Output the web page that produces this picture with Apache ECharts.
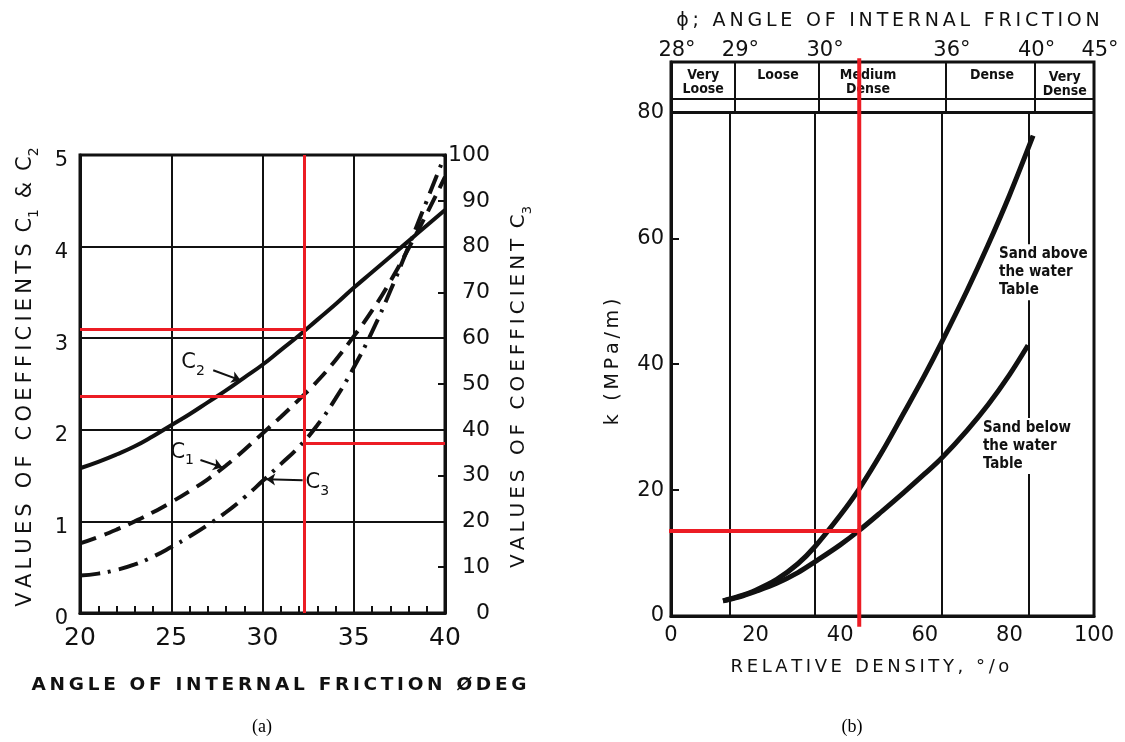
<!DOCTYPE html>
<html>
<head>
<meta charset="utf-8">
<script src="https://cdn.jsdelivr.net/npm/echarts@6/dist/echarts.min.js"></script>
<style>
html,body{margin:0;padding:0;background:#fff;}
#chart{width:1125px;height:742px;}
</style>
</head>
<body>
<div id="chart"></div>
<script>
// ---------- Panel (a) data ----------
const anglesA = [20,21,22,23,24,25,26,27,28,29,30,31,32,33,34,35,36,37,38,39,40];
const c2Values = [1.58,1.65,1.73,1.82,1.93,2.05,2.17,2.30,2.43,2.57,2.71,2.87,3.03,3.20,3.37,3.55,3.72,3.89,4.06,4.23,4.40];
const c1Values = [0.76,0.83,0.91,1.00,1.10,1.21,1.33,1.46,1.61,1.78,1.96,2.14,2.33,2.53,2.76,3.02,3.30,3.62,3.98,4.36,4.76];
const c3Values = [8.2,8.6,9.4,10.6,12.3,14.4,16.7,19.2,22.0,25.2,28.8,32.5,36.3,41.0,46.8,53.6,61.4,70.3,80.0,90.0,100.0];
// red read-off lines, panel (a)
const readAngle = 32.3;
const readC2 = 3.1;
const readC1 = 2.37;
const readC3 = 37;
// curve name labels (subscript) and their leader arrows, panel (a)
const curveLabelSubs = ['2','1','3'];
const curveLabelX = [26.2, 25.6, 33.0];
const curveLabelY = [2.73, 1.75, 1.42];
const leaderFromX = [27.3, 26.6, 32.2];
const leaderFromY = [2.65, 1.67, 1.45];
const leaderToX = [28.8, 27.8, 30.2];
const leaderToY = [2.54, 1.59, 1.46];

// ---------- Panel (b) data ----------
const densityAbove = [12.3,16,20,25,30,34,40,44.5,50,55,60,64,70,75,80,85.6];
const kAbove = [2.4,3.1,4.1,5.8,8.3,11.0,16.0,20.2,26.2,32.2,38.3,43.5,51.7,59.0,66.8,76.3];
const densityBelow = [12.3,16,20,25,30,34,40,44.5,50,55,60,64,70,75,80,84.4];
const kBelow = [2.4,3.0,3.9,5.2,6.9,8.6,11.3,13.6,16.7,19.6,22.6,25.1,29.5,33.6,38.3,43.0];
// density class boundaries (lower plot part and header band)
const classBoundsLow = [14, 34, 64, 84.5];
const classBoundsHigh = [15, 35, 65, 86];
const classNames = ['Very\nLoose','Loose','Medium\nDense','Dense','Very\nDense'];
const classLabelX = [7.6, 25.3, 46.6, 75.9, 93.1];
const classLabelY = [84.8, 85.9, 84.8, 85.9, 84.4];
const angleTickLabels = ['28°','29°','30°','36°','40°','45°'];
const angleTickDensity = [0, 15, 35, 65, 85, 100];
const bandBottom = 80, bandMid = 82.1, kTop = 88;
const curveNotes = ['Sand above\nthe water\nTable','Sand below\nthe water\nTable'];
const curveNoteX = [77.3, 73.5];
const curveNoteY = [54.6, 27.0];
// red read-off lines, panel (b)
const readDensity = 44.5;
const readK = 13.5;

const INK = '#111';
const RED = '#ec1c24';
const FONT = 'DejaVu Sans';
const NARROW = 'DejaVu Sans Condensed';

const chart = echarts.init(document.getElementById('chart'), null, {renderer:'canvas'});

const zip = (a,b) => a.map((v,i)=>[v,b[i]]);
const sp = s => s.split('').join('\u2009');

const seg = (x1,y1,x2,y2,style) => {
  const s = [{coord:[x1,y1]},{coord:[x2,y2]}];
  if (style) s[0].lineStyle = style;
  return s;
};

const redStyleA = {color:RED, width:3, type:'solid'};
const subRich = size => ({
  n:{fontSize:size, lineHeight:30, fontFamily:FONT, fill:INK, color:INK},
  s:{fontSize:Math.round(size*0.66), lineHeight:14, verticalAlign:'bottom', fontFamily:FONT, fill:INK, color:INK}
});

const option = {
  animation:false,
  backgroundColor:'#fff',
  textStyle:{fontFamily:FONT, color:INK},
  grid:[
    {left:80, top:155, width:365, height:458, show:true, borderColor:INK, borderWidth:3, containLabel:false},
    {left:671, top:62, width:423, height:554, show:true, borderColor:INK, borderWidth:3, containLabel:false}
  ],
  xAxis:[
    {type:'value', gridIndex:0, min:20, max:40, interval:5,
     axisLine:{show:true, onZero:false, lineStyle:{color:INK, width:3}},
     axisTick:{show:true, inside:true, length:7, lineStyle:{color:INK, width:2}},
     minorTick:{show:true, splitNumber:5, length:7, lineStyle:{color:INK, width:2}},
     axisLabel:{fontSize:25, color:INK, margin:13, fontFamily:FONT},
     splitLine:{show:true, lineStyle:{color:INK, width:2}}},
    {type:'value', gridIndex:1, min:0, max:100, interval:20,
     axisLine:{show:true, onZero:false, lineStyle:{color:INK, width:3}},
     axisTick:{show:false},
     axisLabel:{fontSize:21, color:INK, margin:9, fontFamily:FONT},
     splitLine:{show:false}}
  ],
  yAxis:[
    {type:'value', gridIndex:0, min:0, max:5, interval:1, position:'left',
     axisLine:{show:true, onZero:false, lineStyle:{color:INK, width:3}},
     axisTick:{show:false},
     axisLabel:{fontSize:21, color:INK, margin:12, verticalAlign:'top', lineHeight:12, fontFamily:FONT},
     splitLine:{show:true, lineStyle:{color:INK, width:2}}},
    {type:'value', gridIndex:0, min:0, max:100, interval:10, position:'right',
     axisLine:{show:true, onZero:false, lineStyle:{color:INK, width:3}},
     axisTick:{show:true, inside:true, length:7, lineStyle:{color:INK, width:2}},
     axisLabel:{fontSize:22, color:INK, margin:45, align:'right', fontFamily:FONT},
     splitLine:{show:false}},
    {type:'value', gridIndex:1, min:0, max:kTop, interval:20, position:'left',
     axisLine:{show:true, onZero:false, lineStyle:{color:INK, width:3}},
     axisTick:{show:true, inside:true, length:8, lineStyle:{color:INK, width:2}},
     axisLabel:{fontSize:21, color:INK, margin:7, showMaxLabel:false, fontFamily:FONT,
       formatter:v => (v===kTop ? '' : String(v))},
     splitLine:{show:false}}
  ],
  series:[
    // ---- panel (a) ----
    {type:'line', name:'C2', xAxisIndex:0, yAxisIndex:0, data:zip(anglesA,c2Values),
     smooth:true, showSymbol:false, symbol:'none', lineStyle:{color:INK, width:4}, z:3,
     markLine:{silent:true, symbol:'none', label:{show:false}, lineStyle:redStyleA, animation:false,
       data:[
         seg(readAngle,0,readAngle,5),
         seg(20,readC2,readAngle,readC2),
         seg(20,readC1,readAngle,readC1)
       ]}},
    {type:'line', name:'C1', xAxisIndex:0, yAxisIndex:0, data:zip(anglesA,c1Values),
     smooth:true, showSymbol:false, symbol:'none', lineStyle:{color:INK, width:4, type:[17,9]}, z:3,
     markLine:{silent:true, symbol:['none','arrow'], symbolSize:9, label:{show:false},
       lineStyle:{color:INK, width:2, type:'solid'}, animation:false,
       data: curveLabelSubs.map((s,i)=>seg(leaderFromX[i],leaderFromY[i],leaderToX[i],leaderToY[i]))}},
    {type:'line', name:'C3', xAxisIndex:0, yAxisIndex:1, data:zip(anglesA,c3Values),
     smooth:true, showSymbol:false, symbol:'none', lineStyle:{color:INK, width:4, type:[20,8,3,8]}, z:3,
     markLine:{silent:true, symbol:'none', label:{show:false}, lineStyle:redStyleA, animation:false,
       data:[ seg(readAngle,readC3,40,readC3) ]}},
    {type:'scatter', xAxisIndex:0, yAxisIndex:0, symbolSize:0, silent:true, clip:false, z:5,
     itemStyle:{opacity:1},
     data: curveLabelSubs.map((s,i)=>({value:[curveLabelX[i],curveLabelY[i]]})),
     label:{show:true, position:'inside', color:INK, opacity:1,
       formatter:p => '{n|C}{s|' + curveLabelSubs[p.dataIndex] + '}',
       rich:subRich(21)}},
    // ---- panel (b) ----
    {type:'line', name:'Sand above the water table', xAxisIndex:1, yAxisIndex:2, data:zip(densityAbove,kAbove),
     smooth:0.35, showSymbol:false, symbol:'none', lineStyle:{color:INK, width:5}, z:3,
     markLine:{silent:true, symbol:'none', label:{show:false}, animation:false,
       lineStyle:{color:INK, width:2, type:'solid'},
       data:[
         seg(0,bandBottom,100,bandBottom,{color:INK,width:3,type:'solid'}),
         seg(0,bandMid,100,bandMid,{color:INK,width:2,type:'solid'}),
         ...classBoundsLow.map(b=>seg(b,0,b,bandBottom)),
         ...classBoundsHigh.map(b=>seg(b,bandBottom,b,kTop))
       ]}},
    {type:'line', name:'Sand below the water table', xAxisIndex:1, yAxisIndex:2, data:zip(densityBelow,kBelow),
     smooth:0.35, showSymbol:false, symbol:'none', lineStyle:{color:INK, width:5}, z:3},
    // red read-off lines, panel (b)
    {type:'line', xAxisIndex:1, yAxisIndex:2, data:[[readDensity,-1.7],[readDensity,kTop+0.6]],
     clip:false, showSymbol:false, symbol:'none', silent:true, lineStyle:{color:RED, width:4}, z:6},
    {type:'line', xAxisIndex:1, yAxisIndex:2, data:[[-1.5,readK],[readDensity,readK]],
     clip:false, showSymbol:false, symbol:'none', silent:true, lineStyle:{color:RED, width:4}, z:6},
    // class names in header band
    {type:'scatter', xAxisIndex:1, yAxisIndex:2, symbolSize:0, silent:true, clip:false, z:5,
     itemStyle:{opacity:1},
     data: classNames.map((n,i)=>({value:[classLabelX[i],classLabelY[i]], name:n})),
     label:{show:true, position:'inside', color:INK, opacity:1, formatter:p=>p.name,
       fontFamily:NARROW, fontWeight:'bold', fontSize:14, lineHeight:14}},
    // notes beside the curves
    {type:'scatter', xAxisIndex:1, yAxisIndex:2, symbolSize:0, silent:true, clip:false, z:5,
     itemStyle:{opacity:1},
     data: curveNotes.map((n,i)=>({value:[curveNoteX[i],curveNoteY[i]], name:n})),
     label:{show:true, position:'right', distance:0, align:'left', color:INK, opacity:1, formatter:p=>p.name,
       fontFamily:NARROW, fontWeight:'bold', fontSize:15, lineHeight:18,
       backgroundColor:'#fff', padding:[1,1,1,1]}},
    // top friction-angle scale
    {type:'scatter', xAxisIndex:1, yAxisIndex:2, symbolSize:0, silent:true, clip:false, z:5,
     itemStyle:{opacity:1},
     data: angleTickLabels.map((n,i)=>({value:[angleTickDensity[i],kTop], name:n})),
     label:{show:true, position:'inside', offset:[6,-11], color:INK, opacity:1, formatter:p=>p.name,
       fontFamily:FONT, fontSize:21}}
  ],
  graphic:[
    {type:'text', x:26, y:377, rotation:Math.PI/2, silent:true,
     style:{text:sp('VALUES OF COEFFICIENTS ') + '{n|C}{s|1}' + sp(' & ') + '{n|C}{s|2}',
       align:'center', verticalAlign:'middle', fill:INK, font:'21px "DejaVu Sans"', rich:subRich(21)}},
    {type:'text', x:519, y:387, rotation:Math.PI/2, silent:true,
     style:{text:sp('VALUES OF COEFFICIENT ') + '{n|C}{s|3}',
       align:'center', verticalAlign:'middle', fill:INK, font:'20px "DejaVu Sans"', rich:subRich(20)}},
    {type:'text', x:279, y:685, silent:true,
     style:{text:sp('ANGLE OF INTERNAL FRICTION ØDEG'), align:'center', verticalAlign:'middle',
       fill:INK, font:'bold 18.5px "DejaVu Sans"'}},
    {type:'text', x:613, y:362, rotation:Math.PI/2, silent:true,
     style:{text:sp('k (MPa/m)'), align:'center', verticalAlign:'middle', fill:INK, font:'19px "DejaVu Sans"'}},
    {type:'text', x:888, y:21, silent:true,
     style:{text:sp('ϕ; ANGLE OF INTERNAL FRICTION'), align:'center', verticalAlign:'middle', fill:INK, font:'19px "DejaVu Sans"'}},
    {type:'text', x:870, y:667, silent:true,
     style:{text:sp('RELATIVE DENSITY, °/o'), align:'center', verticalAlign:'middle', fill:INK, font:'18px "DejaVu Sans"'}},
    {type:'text', x:262, y:727, silent:true,
     style:{text:'(a)', align:'center', verticalAlign:'middle', fill:'#000', font:'18px "Liberation Serif"'}},
    {type:'text', x:852, y:727, silent:true,
     style:{text:'(b)', align:'center', verticalAlign:'middle', fill:'#000', font:'18px "Liberation Serif"'}}
  ]
};
chart.setOption(option);
</script>
</body>
</html>
